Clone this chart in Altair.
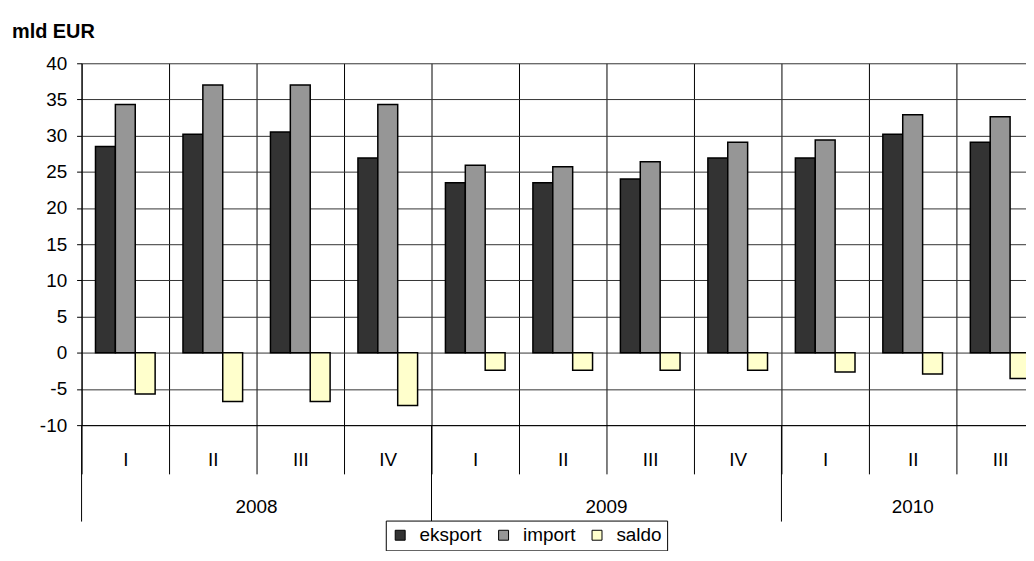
import altair as alt
import pandas as pd

# ---- data ----
years_per_q = [2008, 2008, 2008, 2008, 2009, 2009, 2009, 2009, 2010, 2010, 2010]
quarters = ["I", "II", "III", "IV", "I", "II", "III", "IV", "I", "II", "III"]
eksport = [28.5, 30.2, 30.5, 26.9, 23.5, 23.5, 24.0, 26.9, 26.9, 30.2, 29.1]
import_ = [34.3, 37.0, 37.0, 34.3, 25.9, 25.7, 26.4, 29.1, 29.4, 32.9, 32.6]
saldo = [-5.7, -6.75, -6.75, -7.3, -2.4, -2.4, -2.4, -2.4, -2.65, -2.95, -3.55]
series_names = ["eksport", "import", "saldo"]
series_colors = ["#333333", "#969696", "#FFFFCC"]
y_ticks = [-10, -5, 0, 5, 10, 15, 20, 25, 30, 35, 40]
title_text = "mld EUR"

FONT = "Liberation Sans"
FS = 19

cats = [f"{y}-{q}" for y, q in zip(years_per_q, quarters)]
rows = []
for c, e, i, s in zip(cats, eksport, import_, saldo):
    for name, v in zip(series_names, (e, i, s)):
        rows.append({"cat": c, "series": name, "value": v})
bars_df = pd.DataFrame(rows)

# year groups
year_list = []
for y in years_per_q:
    if y not in year_list:
        year_list.append(y)
year_cats = {y: [c for c, yy in zip(cats, years_per_q) if yy == y] for y in year_list}
rule_df = pd.DataFrame({"cat": [year_cats[y][0] for y in year_list]})
even_rows, odd_rows = [], []
for y in year_list:
    qs = year_cats[y]
    n = len(qs)
    if n % 2 == 0:
        even_rows.append({"cat": qs[n // 2 - 1], "label": str(y)})
    else:
        odd_rows.append({"cat": qs[(n - 1) // 2], "label": str(y)})
even_df = pd.DataFrame(even_rows)
odd_df = pd.DataFrame(odd_rows)
title_df = pd.DataFrame({"t": [title_text]})

x_scale = alt.Scale(domain=cats, range=[0, 968], paddingInner=0, paddingOuter=0)

x_axis = alt.Axis(
    title=None, tickBand="extent", tickSize=49, tickColor="black", tickWidth=1,
    labelPadding=-23, labelExpr="split(datum.label, '-')[1]", labelAngle=0,
    labelFontSize=FS, labelFont=FONT, labelColor="black",
    grid=True, gridColor="black", gridWidth=1, domainColor="black",
)
y_axis = alt.Axis(
    title=None, values=y_ticks, tickSize=5, tickColor="black", labelPadding=10,
    labelExpr="'' + datum.value",
    labelFontSize=FS, labelFont=FONT, labelColor="black",
    grid=True, gridColor="#333333", gridWidth=1, domainColor="black",
)

bars = alt.Chart(bars_df).mark_bar(stroke="black", strokeWidth=1.5, opacity=1).encode(
    x=alt.X("cat:N", scale=x_scale, axis=x_axis),
    xOffset=alt.XOffset("series:N", sort=series_names,
                        scale=alt.Scale(paddingOuter=0.7, paddingInner=0)),
    y=alt.Y("value:Q", scale=alt.Scale(domain=[-10, 40]), axis=y_axis),
    color=alt.Color(
        "series:N",
        scale=alt.Scale(domain=series_names, range=series_colors),
        legend=alt.Legend(
            title=None, orient="none", legendX=306, legendY=460,
            direction="horizontal", strokeColor="black", fillColor="white",
            padding=5, symbolType="square", symbolSize=100,
            symbolStrokeColor="black", symbolStrokeWidth=1, symbolOpacity=1,
            labelFontSize=FS, labelFont=FONT, labelColor="black",
            labelOffset=10, columnPadding=12,
        ),
    ),
)

rules = alt.Chart(rule_df).mark_rule(color="black", strokeWidth=1).encode(
    x=alt.X("cat:N", bandPosition=0),
    y=alt.value(364),
    y2=alt.value(461),
)

year_even = alt.Chart(even_df).mark_text(
    fontSize=FS, font=FONT, color="black", baseline="middle", align="center"
).encode(
    x=alt.X("cat:N", bandPosition=1),
    y=alt.value(446),
    text="label:N",
)

year_odd = alt.Chart(odd_df).mark_text(
    fontSize=FS, font=FONT, color="black", baseline="middle", align="center"
).encode(
    x=alt.X("cat:N", bandPosition=0.5),
    y=alt.value(446),
    text="label:N",
)

title_layer = alt.Chart(title_df).mark_text(
    fontSize=20, font=FONT, fontWeight="bold", color="black",
    align="left", baseline="alphabetic"
).encode(
    x=alt.value(-70),
    y=alt.value(-25),
    text="t:N",
)

chart = alt.layer(bars, rules, year_even, year_odd, title_layer).properties(
    width=950, height=364,
    autosize=alt.AutoSizeParams(type="none"),
    padding={"left": 74, "top": 54, "right": 0, "bottom": 125},
    background="white",
).configure_view(stroke="transparent")

chart.save("out.html", embed_options={"renderer": "svg", "actions": False})
